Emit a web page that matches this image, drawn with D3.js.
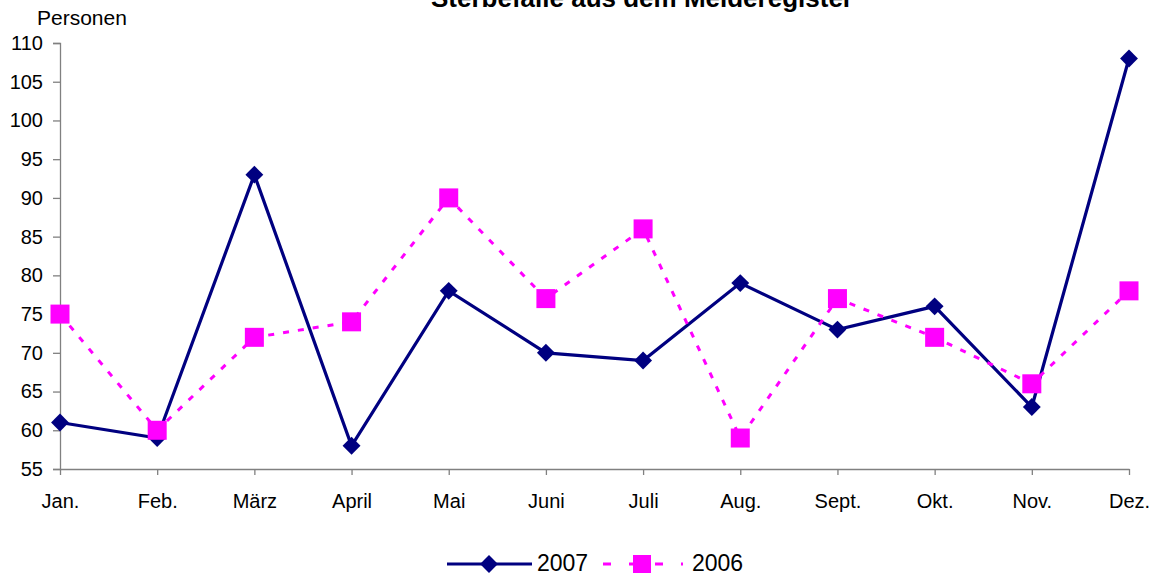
<!DOCTYPE html>
<html><head><meta charset="utf-8">
<script src="https://cdn.jsdelivr.net/npm/d3@7"></script>
<style>body{margin:0;background:#fff}svg{display:block}text{font-family:"Liberation Sans",Arial,sans-serif}</style>
</head><body><svg id="c" width="1151" height="575"></svg>
<script>
const months = ["Jan.","Feb.","März","April","Mai","Juni","Juli","Aug.","Sept.","Okt.","Nov.","Dez."];
const values2007 = [61,59,93,58,78,70,69,79,73,76,63,108];
const values2006 = [75,60,72,74,90,77,86,59,77,72,66,78];
const yTicks = [55,60,65,70,75,80,85,90,95,100,105,110];
const title = "Sterbefälle aus dem Melderegister";
const yLabel = "Personen";

const svg = d3.select("#c");
const x = d3.scalePoint().domain(months).range([60,1129]);
const y = d3.scaleLinear().domain([55,110]).range([469,43]);
const axisColor = "#808080";

// title
svg.append("text").attr("x",642).attr("y",7).attr("text-anchor","middle")
  .attr("font-size",26).attr("font-weight","bold").text(title);
svg.append("text").attr("x",37).attr("y",25).attr("font-size",21).text(yLabel);

// y axis
const ya = svg.append("g").attr("transform","translate(60,0)")
  .call(d3.axisLeft(y).tickValues(yTicks).tickSize(7).tickPadding(10));
ya.select(".domain").attr("stroke",axisColor).attr("stroke-width",1.3);
ya.selectAll(".tick line").attr("stroke",axisColor).attr("stroke-width",1.3);
ya.selectAll(".tick text").attr("font-size",20).attr("fill","#000")
  .attr("font-family","Liberation Sans, Arial, sans-serif");

// x axis
const xa = svg.append("g").attr("transform","translate(0,469)")
  .call(d3.axisBottom(x).tickSize(6).tickSizeOuter(0));
xa.select(".domain").attr("stroke",axisColor).attr("stroke-width",1.3);
xa.selectAll(".tick line").attr("stroke",axisColor).attr("stroke-width",1.3);
xa.selectAll(".tick text").attr("font-size",20).attr("fill","#000")
  .attr("y",39).attr("dy",0)
  .attr("font-family","Liberation Sans, Arial, sans-serif");

const line = d3.line().x((d,i)=>x(months[i])).y(d=>y(d));

// 2007
svg.append("path").datum(values2007).attr("d",line).attr("fill","none")
  .attr("stroke","#000080").attr("stroke-width",3.2).attr("stroke-linejoin","miter");
const diamond = d3.symbol().type(d3.symbolSquare).size(160);
svg.selectAll(".d7").data(values2007).enter().append("path")
  .attr("d",diamond())
  .attr("transform",(d,i)=>`translate(${x(months[i])},${y(d)}) rotate(45)`)
  .attr("fill","#000080");

// 2006
svg.append("path").datum(values2006).attr("d",line).attr("fill","none")
  .attr("stroke","#FF00FF").attr("stroke-width",3).attr("stroke-dasharray","6,9");
svg.selectAll(".s6").data(values2006).enter().append("rect")
  .attr("x",(d,i)=>x(months[i])-9.5).attr("y",d=>y(d)-9.5)
  .attr("width",19).attr("height",19).attr("fill","#FF00FF");

// legend
const lg = svg.append("g");
lg.append("line").attr("x1",447).attr("x2",532).attr("y1",564).attr("y2",564)
  .attr("stroke","#000080").attr("stroke-width",3.2);
lg.append("path").attr("d",diamond()).attr("transform","translate(489,564) rotate(45)").attr("fill","#000080");
lg.append("text").attr("x",537).attr("y",571).attr("font-size",23).text("2007");
lg.append("line").attr("x1",603).attr("x2",683).attr("y1",564).attr("y2",564)
  .attr("stroke","#FF00FF").attr("stroke-width",3).attr("stroke-dasharray","8,18");
lg.append("rect").attr("x",633).attr("y",555).attr("width",18).attr("height",18).attr("fill","#FF00FF");
lg.append("text").attr("x",692).attr("y",571).attr("font-size",23).text("2006");
</script></body></html>
